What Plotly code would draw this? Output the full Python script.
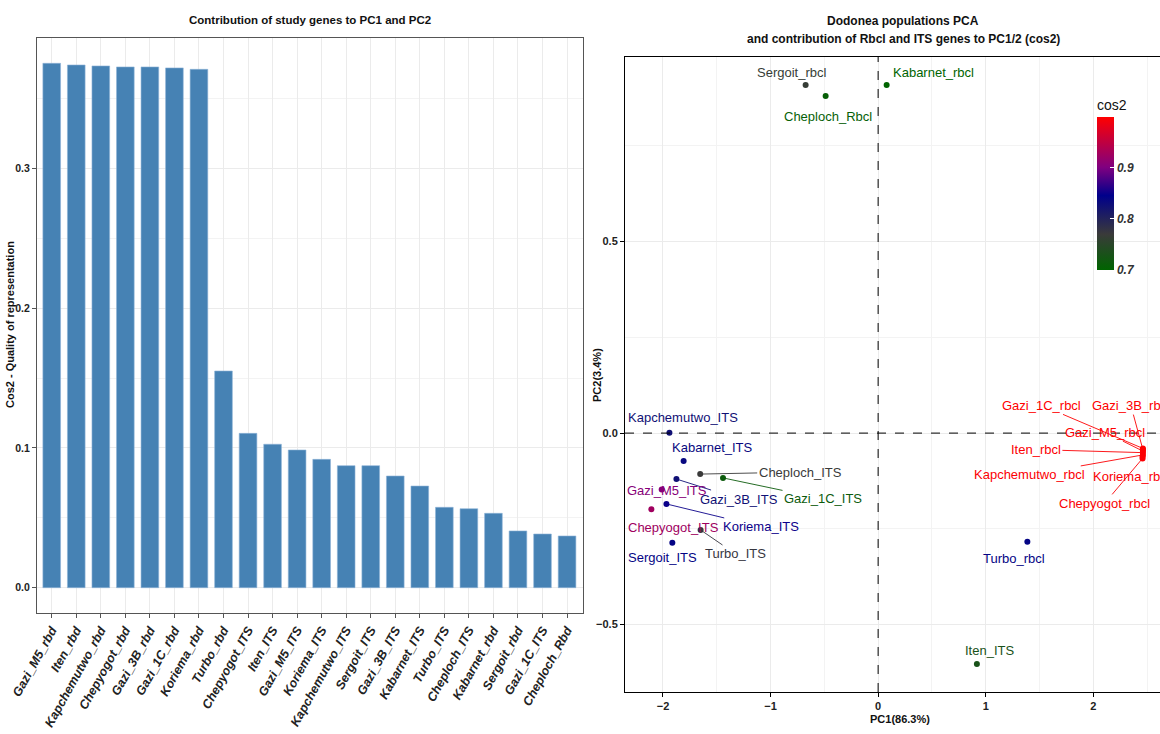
import plotly.graph_objects as go
from plotly.colors import sample_colorscale

# ---------------- data ----------------
BAR_GENES = ["Gazi_M5_rbd", "Iten_rbd", "Kapchemutwo_rbd", "Chepyogot_rbd", "Gazi_3B_rbd",
             "Gazi_1C_rbd", "Koriema_rbd", "Turbo_rbd", "Chepyogot_ITS", "Iten_ITS",
             "Gazi_M5_ITS", "Koriema_ITS", "Kapchemutwo_ITS", "Sergoit_ITS", "Gazi_3B_ITS",
             "Kabarnet_ITS", "Turbo_ITS", "Cheploch_ITS", "Kabarnet_rbd", "Sergoit_rbd",
             "Gazi_1C_ITS", "Cheploch_Rbd"]
BAR_COS2 = [0.3751, 0.3739, 0.3732, 0.3725, 0.3725, 0.3718, 0.3708, 0.155, 0.1104, 0.1026,
            0.0985, 0.0918, 0.0873, 0.0873, 0.0799, 0.0727, 0.0575, 0.0565, 0.0532, 0.0406,
            0.0384, 0.037]

PCA_NAMES = ["Sergoit_rbcl", "Kabarnet_rbcl", "Cheploch_Rbcl", "Kapchemutwo_ITS", "Kabarnet_ITS",
             "Cheploch_ITS", "Gazi_1C_ITS", "Gazi_3B_ITS", "Gazi_M5_ITS", "Koriema_ITS",
             "Chepyogot_ITS", "Turbo_ITS", "Sergoit_ITS", "Turbo_rbcl", "Iten_ITS",
             "Gazi_1C_rbcl", "Gazi_3B_rbcl", "Gazi_M5_rbcl", "Iten_rbcl", "Kapchemutwo_rbcl",
             "Koriema_rbcl", "Chepyogot_rbcl"]
PC1 = [-0.674, 0.079, -0.488, -1.940, -1.808, -1.654, -1.442, -1.875, -2.012, -1.968,
       -2.108, -1.650, -1.913, 1.387, 0.918,
       2.461, 2.461, 2.461, 2.461, 2.461, 2.458, 2.458]
PC2 = [0.909, 0.909, 0.880, 0.001, -0.073, -0.107, -0.117, -0.120, -0.147, -0.185,
       -0.199, -0.253, -0.286, -0.284, -0.603,
       -0.040, -0.043, -0.047, -0.051, -0.057, -0.061, -0.066]
PCA_COS2 = [0.765, 0.700, 0.708, 0.825, 0.835, 0.770, 0.715, 0.825, 0.905, 0.850,
            0.925, 0.775, 0.840, 0.840, 0.730,
            0.998, 0.997, 0.997, 0.996, 0.996, 0.995, 0.995]

COLORBAR_TICKS = [0.7, 0.8, 0.9]

# ---------------- label placement (pixel offsets, dx right / dy down, arrow) ----------------
LABEL_OFFSETS = {
    "Sergoit_rbcl": (-14, -12, False), "Kabarnet_rbcl": (47, -12, False),
    "Cheploch_Rbcl": (2, 20, False), "Kapchemutwo_ITS": (14, -15, False),
    "Kabarnet_ITS": (29, -14, False), "Cheploch_ITS": (100, -2, True),
    "Gazi_1C_ITS": (100, 21, True), "Gazi_3B_ITS": (63, 20, True),
    "Gazi_M5_ITS": (5, 1, False), "Koriema_ITS": (95, 23, True),
    "Chepyogot_ITS": (22, 18, False), "Turbo_ITS": (35, 24, True),
    "Sergoit_ITS": (-10, 15, False), "Turbo_rbcl": (-13, 17, False),
    "Iten_ITS": (13, -14, False), "Gazi_1C_rbcl": (-101, -43, True),
    "Gazi_3B_rbcl": (-12, -44, True), "Gazi_M5_rbcl": (-38, -19, True),
    "Iten_rbcl": (-107, -3, True), "Kapchemutwo_rbcl": (-113, 20, True),
    "Koriema_rbcl": (-11, 20, True), "Chepyogot_rbcl": (-38, 45, True),
}

W, H = 1160, 734
FONT = "Liberation Sans, Arial, sans-serif"
CMIN, CMAX = 0.7, 0.998
COLORSCALE = [[0.0, "#006400"], [0.235, "#3a3a3a"], [0.487, "#00008B"],
              [0.671, "#800080"], [1.0, "#FF0000"]]


def px_x(p):
    return p / W


def px_y(p):
    return 1 - p / H


fig = go.Figure()

fig.add_trace(go.Bar(
    x=BAR_GENES, y=BAR_COS2, xaxis="x", yaxis="y", width=0.72,
    marker=dict(color="#4682B4", line=dict(color="#8fb3d6", width=0.6)),
    showlegend=False, hoverinfo="x+y"))

fig.add_trace(go.Scatter(
    x=PC1, y=PC2, xaxis="x2", yaxis="y2", mode="markers", showlegend=False,
    text=PCA_NAMES,
    marker=dict(size=6, color=PCA_COS2, colorscale=COLORSCALE, cmin=CMIN, cmax=CMAX,
                colorbar=dict(
                    title=dict(text="cos2", side="top", font=dict(family=FONT, size=14, color="#111")),
                    xref="paper", x=px_x(1097), xanchor="left",
                    yref="paper", y=px_y(96), yanchor="top",
                    thickness=17, thicknessmode="pixels", len=174, lenmode="pixels",
                    outlinewidth=0, xpad=0, ypad=0,
                    tickvals=COLORBAR_TICKS, ticktext=[f"{v:.1f}" for v in COLORBAR_TICKS],
                    ticks="inside", tickcolor="white", ticklen=4, tickwidth=1,
                    tickfont=dict(family=FONT, size=12, color="#333", weight="bold", style="italic"),
                    bgcolor="rgba(0,0,0,0)")),
))

# label colours from the colour scale
norm = [(c - CMIN) / (CMAX - CMIN) for c in PCA_COS2]
label_colors = sample_colorscale(COLORSCALE, [min(max(v, 0), 1) for v in norm])

annotations = []
for name, xv, yv, col in zip(PCA_NAMES, PC1, PC2, label_colors):
    dx, dy, arrow = LABEL_OFFSETS[name]
    base = dict(x=xv, y=yv, xref="x2", yref="y2", text=name,
                font=dict(family=FONT, size=13, color=col))
    if arrow:
        base.update(showarrow=True, ax=dx, ay=dy, arrowhead=0, arrowwidth=0.9,
                    arrowcolor=col, standoff=0, startstandoff=0)
    else:
        base.update(showarrow=False, xshift=dx, yshift=-dy)
    annotations.append(base)

axis_title_font = dict(family=FONT, size=11, color="#111", weight="bold")


def paper_text(text, x, y, font, angle=0):
    return dict(text=text, x=px_x(x), y=px_y(y), xref="paper", yref="paper",
                xanchor="center", yanchor="middle", showarrow=False, font=font,
                textangle=angle)


annotations += [
    paper_text("Contribution of study genes to PC1 and PC2", 310, 20,
               dict(family=FONT, size=11.5, color="#111", weight="bold")),
    paper_text("Dodonea populations PCA", 903, 21,
               dict(family=FONT, size=12, color="#111", weight="bold")),
    paper_text("and contribution of Rbcl and ITS genes to PC1/2 (cos2)", 903, 39,
               dict(family=FONT, size=12, color="#111", weight="bold")),
    paper_text("Cos2 - Quality of representation", 10, 325, axis_title_font, -90),
    paper_text("PC1(86.3%)", 900, 719, axis_title_font),
    paper_text("PC2(3.4%)", 597, 375, axis_title_font, -90),
]

tick_font = dict(family=FONT, size=11, color="#222", weight="bold")
grid = "#ebebeb"
minor_grid = "#f3f3f3"

fig.update_layout(
    width=W, height=H, margin=dict(l=0, r=0, t=0, b=0, autoexpand=False),
    paper_bgcolor="white", plot_bgcolor="white",
    xaxis=dict(domain=[px_x(37), px_x(583)], anchor="y", range=[-0.6, 21.65], automargin=False,
               type="category", tickangle=-61, showgrid=True, gridcolor=grid,
               showline=True, linecolor="#555", linewidth=1, mirror=True,
               ticks="outside", ticklen=4, tickcolor="#555",
               tickfont=dict(family=FONT, size=12.5, color="#222", weight="bold", style="italic")),
    yaxis=dict(domain=[px_y(613), px_y(38)], anchor="x", range=[-0.0181, 0.3932], automargin=False,
               dtick=0.1, tickformat=".1f", showgrid=True, gridcolor=grid,
               minor=dict(dtick=0.05, showgrid=True, gridcolor=minor_grid),
               showline=True, linecolor="#555", linewidth=1, mirror=True,
               zeroline=False, ticks="outside", ticklen=4, tickcolor="#555",
               tickfont=dict(family=FONT, size=10.5, color="#222", weight="bold")),
    xaxis2=dict(domain=[px_x(625), 1.0], anchor="y2", range=[-2.353, 2.62], automargin=False,
                dtick=1, showgrid=True, gridcolor=grid, zeroline=False,
                minor=dict(dtick=0.5, showgrid=True, gridcolor=minor_grid),
                showline=True, linecolor="black", linewidth=1, mirror=True,
                ticks="outside", ticklen=4, tickcolor="black", tickfont=tick_font),
    yaxis2=dict(domain=[px_y(692), px_y(57)], anchor="x2", range=[-0.676, 0.982], automargin=False,
                dtick=0.5, tickformat=".1f", showgrid=True, gridcolor=grid, zeroline=False,
                minor=dict(dtick=0.25, showgrid=True, gridcolor=minor_grid),
                showline=True, linecolor="black", linewidth=1,
                ticks="outside", ticklen=4, tickcolor="black", tickfont=tick_font),
    annotations=annotations,
    shapes=[
        dict(type="line", xref="x2", yref="y2 domain", x0=0, x1=0, y0=0, y1=1,
             line=dict(color="black", width=1, dash="dash")),
        dict(type="line", xref="x2 domain", yref="y2", x0=0, x1=1, y0=0, y1=0,
             line=dict(color="black", width=1, dash="dash")),
    ],
)

fig.write_html("out.html")
